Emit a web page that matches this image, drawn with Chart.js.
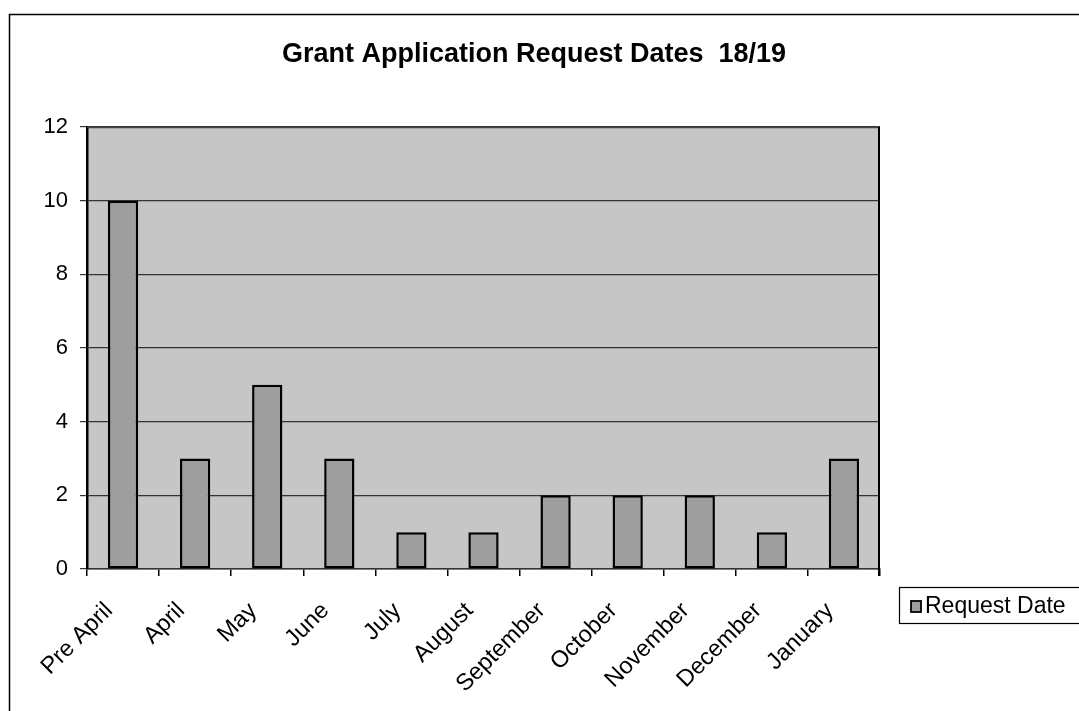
<!DOCTYPE html>
<html><head><meta charset="utf-8">
<script src="https://cdn.jsdelivr.net/npm/chart.js@4/dist/chart.umd.min.js"></script>
<style>html,body{margin:0;padding:0;background:#fff}#wrap{width:1079px;height:711px;position:relative}</style>
</head><body><div id="wrap"><canvas id="c" width="1079" height="711"></canvas></div>
<script>
const categories = ["Pre April","April","May","June","July","August","September","October","November","December","January"];
const requestDates = [10,3,5,3,1,1,2,2,2,1,3];
const seriesName = "Request Date";
const chartTitle = "Grant Application Request Dates  18/19";
const FONT = "'Liberation Sans', Arial, sans-serif";

const frame = {
  id:'frame',
  beforeDraw(chart){
    const {ctx, chartArea:a} = chart;
    ctx.save();
    ctx.fillStyle = '#c6c6c6';
    ctx.fillRect(a.left, a.top, a.right-a.left, a.bottom-a.top);
    ctx.restore();
  },
  afterDraw(chart){
    const {ctx, chartArea:a} = chart;
    const xs = chart.scales.x;
    ctx.save();
    // outer border
    ctx.strokeStyle = '#000'; ctx.lineWidth = 1.5;
    ctx.beginPath(); ctx.moveTo(9.5, 711); ctx.lineTo(9.5, 14.5); ctx.lineTo(1079, 14.5); ctx.stroke();
    // title
    ctx.fillStyle = '#000'; ctx.font = 'bold 27px ' + FONT; ctx.textAlign = 'center'; ctx.textBaseline = 'middle';
    ctx.fillText(chartTitle, 534, 55);
    // rotated category labels
    ctx.font = '23.5px ' + FONT; ctx.textAlign = 'right'; ctx.textBaseline = 'middle';
    chart.data.labels.forEach((lab, i) => {
      const cx = xs.getPixelForValue(i);
      ctx.save();
      ctx.translate(cx - 14, a.bottom + 38);
      ctx.rotate(-Math.PI/4);
      ctx.fillText(lab, 0, 0);
      ctx.restore();
    });
    // plot area border
    ctx.strokeStyle = '#444'; ctx.lineWidth = 1.5;
    ctx.beginPath(); ctx.moveTo(a.left, a.top+0.5); ctx.lineTo(a.right, a.top+0.5); ctx.stroke();
    ctx.strokeStyle = '#000'; ctx.lineWidth = 2;
    ctx.beginPath(); ctx.moveTo(a.right-1, a.top); ctx.lineTo(a.right-1, a.bottom+7); ctx.stroke();
    // legend
    const lx=899, ly=587, lw=190, lh=36;
    ctx.lineWidth = 1.2; ctx.strokeStyle = '#000';
    ctx.strokeRect(lx+0.5, ly+0.5, lw, lh);
    ctx.fillStyle = '#9e9e9e';
    ctx.fillRect(911, 601, 10, 11);
    ctx.lineWidth = 1.8; ctx.strokeRect(911, 601, 10, 11);
    ctx.fillStyle = '#000'; ctx.font = '23px ' + FONT; ctx.textBaseline = 'middle'; ctx.textAlign='left';
    ctx.fillText(chart.data.datasets[0].label, 925, 607);
    ctx.restore();
  }
};

new Chart(document.getElementById('c'), {
  type:'bar',
  data:{ labels: categories, datasets:[{ label: seriesName, data: requestDates,
    backgroundColor:'#9e9e9e', borderColor:'#000', borderWidth:2.5, borderSkipped:false,
    barPercentage:0.84, categoryPercentage:0.5 }]},
  options:{
    responsive:false, animation:false, devicePixelRatio:1,
    layout:{ padding:{ left:10, right:199, top:127, bottom:0 } },
    plugins:{ legend:{ display:false }, tooltip:{ enabled:false }, title:{ display:false } },
    scales:{
      x:{
        offset:true,
        grid:{ display:true, drawOnChartArea:false, drawTicks:true, tickLength:7, color:'#000', offset:true, lineWidth:1.5 },
        border:{ display:true, color:'#333', width:1.5 },
        ticks:{ display:false, autoSkip:false },
        afterFit(s){ s.height = 142; }
      },
      y:{
        min:0, max:12,
        ticks:{ stepSize:2, color:'#000', font:{ family:FONT, size:22 }, padding:12 },
        grid:{ color:'#333', lineWidth:1.2, tickLength:7, drawTicks:true },
        border:{ display:true, color:'#000', width:2.5 },
        afterFit(s){ s.width = 77; }
      }
    }
  },
  plugins:[frame]
});
</script></body></html>
